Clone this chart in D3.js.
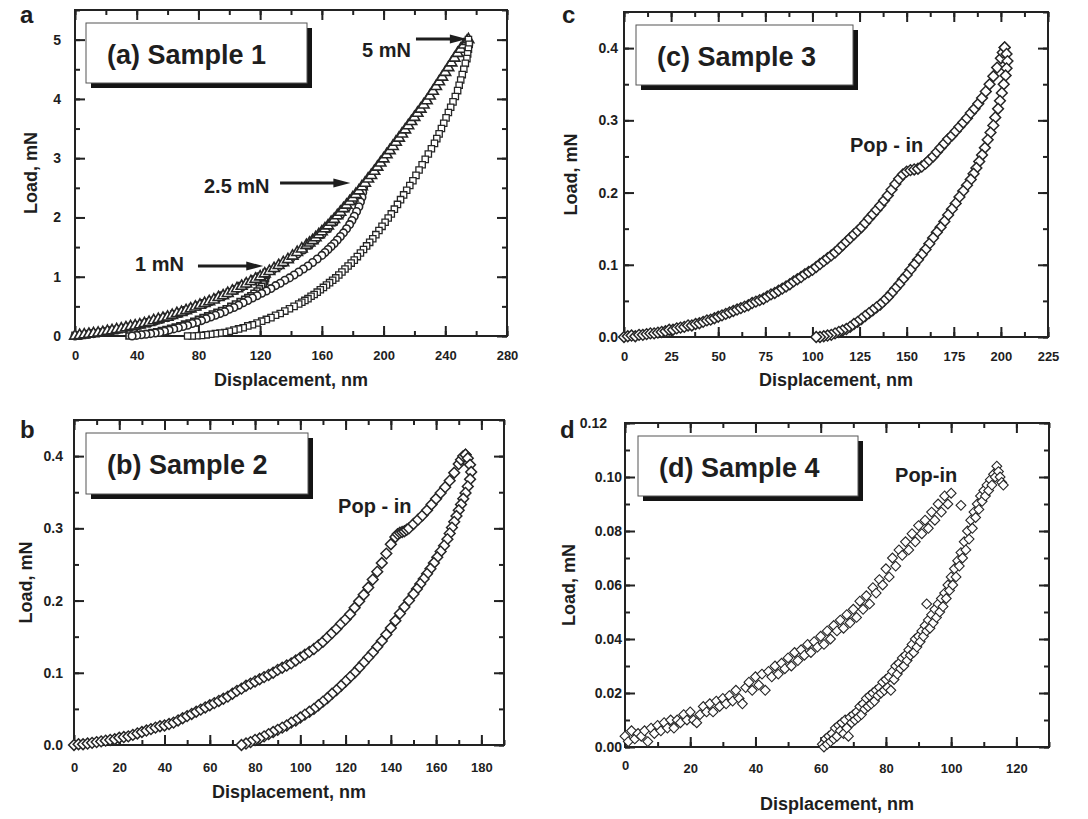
<!DOCTYPE html>
<html>
<head>
<meta charset="utf-8">
<script src="https://cdn.jsdelivr.net/npm/d3@7"></script>
<style>
	body { margin: 0; background: #fff; }
	text { font-family: "Liberation Sans", Arial, Helvetica, sans-serif; font-weight: bold; fill: #1e1e1e; }
</style>
</head>
<body>
<svg id="chart" width="1088" height="819"></svg>
<script>
// ---- data: [displacement nm, load mN] ----

// (a) Sample 1, three indents (1, 2.5 and 5 mN)
var aLoad1 = [[0,0.01],[4,0.02],[8,0.03],[12,0.05],[16,0.06],[20,0.08],[24,0.10],[28,0.12],[32,0.14],[36,0.16],[40,0.18],[44,0.21],[48,0.24],[52,0.27],[56,0.30],[60,0.33],[64,0.37],[68,0.40],[72,0.44],[76,0.48],[80,0.52],[84,0.56],[88,0.60],[92,0.65],[96,0.69],[100,0.74],[104,0.79],[108,0.85],[112,0.90],[116,0.96],[120,1.01],[124,1.07]];
var aUnload1 = [[124,1.07],[124,1.02],[123.5,0.97],[123,0.92],[122,0.88],[121,0.84],[119.5,0.80],[118,0.76],[116,0.72],[114,0.68],[112,0.65],[110,0.62],[107,0.58],[104,0.54],[101,0.50],[98,0.46],[95,0.43],[92,0.40],[89,0.37],[86,0.34],[83,0.31],[80,0.28],[77,0.25],[74,0.22],[71,0.20],[68,0.17],[65,0.15],[62,0.13],[59,0.11],[56,0.09],[53,0.07],[50,0.06],[47,0.04],[44,0.03],[41,0.02],[38,0.01],[35,0.00]];
var aLoad25 = [[0,0.00],[4,0.01],[8,0.03],[12,0.04],[16,0.06],[20,0.07],[24,0.09],[28,0.11],[32,0.13],[36,0.15],[40,0.17],[44,0.20],[48,0.22],[52,0.25],[56,0.28],[60,0.31],[64,0.35],[68,0.38],[72,0.42],[76,0.46],[80,0.50],[84,0.54],[88,0.58],[92,0.63],[96,0.67],[100,0.72],[104,0.77],[108,0.82],[112,0.88],[116,0.93],[120,0.99],[124,1.05],[128,1.11],[132,1.17],[136,1.24],[140,1.31],[144,1.38],[148,1.45],[152,1.53],[156,1.62],[160,1.71],[164,1.81],[168,1.92],[172,2.04],[176,2.16],[180,2.28],[184,2.40],[187,2.50]];
var aUnload25 = [[187,2.50],[186.5,2.42],[186,2.34],[185,2.26],[184,2.18],[182.5,2.10],[181,2.02],[179.5,1.95],[178,1.88],[176,1.81],[174,1.74],[172,1.68],[170,1.62],[168,1.56],[166,1.51],[164,1.46],[162,1.41],[160,1.36],[157,1.30],[154,1.24],[151,1.18],[148,1.13],[145,1.08],[142,1.03],[139,0.98],[136,0.94],[133,0.89],[130,0.85],[127,0.80],[124,0.76],[121,0.72],[118,0.68],[115,0.64],[112,0.60],[109,0.56],[106,0.52],[103,0.48],[100,0.45],[97,0.41],[94,0.38],[91,0.35],[88,0.32],[85,0.29],[82,0.26],[79,0.23],[76,0.21],[73,0.18],[70,0.16],[67,0.14],[64,0.12],[61,0.10],[58,0.08],[55,0.06],[52,0.05],[49,0.04],[46,0.03],[43,0.02],[40,0.01],[37,0.00]];
var aLoad5 = [[0,0.00],[3,0.01],[6,0.02],[9,0.03],[12,0.04],[15,0.05],[18,0.06],[21,0.08],[24,0.09],[27,0.11],[30,0.12],[33,0.14],[36,0.16],[39,0.17],[42,0.19],[45,0.21],[48,0.23],[51,0.26],[54,0.28],[57,0.30],[60,0.32],[63,0.35],[66,0.38],[69,0.40],[72,0.43],[75,0.46],[78,0.49],[81,0.52],[84,0.55],[87,0.58],[90,0.61],[93,0.65],[96,0.68],[99,0.72],[102,0.76],[105,0.80],[108,0.84],[111,0.88],[114,0.92],[117,0.96],[120,1.00],[123,1.05],[126,1.09],[129,1.14],[132,1.19],[135,1.24],[138,1.29],[141,1.35],[144,1.41],[147,1.47],[150,1.53],[152,1.57],[154,1.61],[156,1.66],[158,1.71],[160,1.76],[162,1.81],[164,1.86],[166,1.92],[168,1.97],[170,2.03],[172,2.09],[174,2.15],[176,2.21],[178,2.27],[180,2.33],[182,2.39],[184,2.45],[186,2.52],[188,2.58],[190,2.65],[192,2.71],[194,2.78],[196,2.85],[198,2.92],[200,2.99],[202,3.06],[204,3.13],[206,3.20],[208,3.27],[210,3.34],[212,3.41],[214,3.48],[216,3.55],[218,3.62],[220,3.69],[222,3.76],[224,3.83],[226,3.90],[228,3.97],[230,4.05],[232,4.13],[234,4.21],[236,4.29],[238,4.37],[240,4.45],[242,4.53],[244,4.61],[246,4.69],[248,4.77],[250,4.84],[252,4.91],[254,4.97],[255,5.00]];
var aUnload5 = [[255,5.00],[255.5,4.92],[255,4.84],[254.5,4.76],[254,4.68],[253,4.60],[252,4.50],[251,4.41],[250,4.32],[249,4.23],[248,4.14],[246.5,4.04],[245,3.95],[243.5,3.86],[242,3.77],[240.5,3.68],[239,3.59],[237.5,3.50],[236,3.41],[234.5,3.33],[233,3.25],[231,3.16],[229,3.07],[227,2.98],[225,2.89],[223,2.80],[221,2.71],[219,2.62],[217,2.54],[215,2.46],[213,2.38],[211,2.30],[209,2.22],[207,2.14],[205,2.06],[203,1.99],[201,1.92],[199,1.85],[197,1.78],[195,1.71],[193,1.64],[191,1.58],[189,1.52],[187,1.46],[185,1.40],[183,1.34],[181,1.28],[179,1.23],[177,1.18],[175,1.13],[173,1.08],[171,1.03],[169,0.98],[167,0.94],[165,0.90],[163,0.86],[161,0.82],[159,0.78],[157,0.74],[155,0.70],[153,0.67],[151,0.63],[149,0.60],[147,0.57],[145,0.54],[142,0.50],[139,0.46],[136,0.42],[133,0.38],[130,0.35],[127,0.31],[124,0.28],[121,0.25],[118,0.22],[115,0.19],[112,0.17],[109,0.14],[106,0.12],[103,0.10],[100,0.08],[97,0.06],[94,0.05],[91,0.04],[88,0.03],[85,0.02],[82,0.01],[79,0.005],[76,0.00],[73,0.00]];

// (b) Sample 2
var bLoad = [[0,0.000],[2,0.001],[4,0.001],[6,0.002],[8,0.003],[10,0.004],[12,0.005],[14,0.006],[16,0.007],[18,0.008],[20,0.010],[22,0.011],[24,0.012],[26,0.014],[28,0.016],[30,0.018],[32,0.020],[34,0.022],[36,0.024],[38,0.026],[40,0.027],[42,0.029],[44,0.031],[46,0.034],[48,0.037],[50,0.040],[52,0.043],[54,0.046],[56,0.049],[58,0.052],[60,0.055],[62,0.058],[64,0.061],[66,0.064],[68,0.067],[70,0.071],[72,0.075],[74,0.078],[76,0.082],[78,0.085],[80,0.088],[82,0.091],[84,0.094],[86,0.097],[88,0.100],[90,0.104],[92,0.107],[94,0.110],[96,0.113],[98,0.117],[100,0.121],[102,0.125],[104,0.129],[106,0.133],[108,0.138],[110,0.143],[112,0.149],[114,0.155],[116,0.161],[118,0.168],[120,0.174],[122,0.181],[124,0.190],[126,0.199],[128,0.208],[130,0.218],[132,0.229],[134,0.240],[136,0.252],[138,0.265],[140,0.278],[142,0.288],[143,0.292],[144,0.294],[145,0.295],[146,0.296],[147,0.298],[148,0.300],[150,0.306],[152,0.312],[154,0.318],[156,0.325],[158,0.333],[160,0.341],[162,0.349],[164,0.357],[166,0.366],[168,0.377],[170,0.389],[171,0.395],[172,0.400],[173,0.402]];
var bUnload = [[173,0.402],[174,0.397],[175,0.388],[175.5,0.378],[175,0.368],[174,0.358],[173,0.349],[172,0.341],[171,0.333],[170,0.325],[169,0.317],[168,0.309],[167,0.301],[166,0.293],[165,0.285],[163.5,0.276],[162,0.268],[160.5,0.260],[159,0.252],[157.5,0.244],[156,0.237],[154.5,0.230],[153,0.223],[151.5,0.216],[150,0.209],[148,0.200],[146,0.191],[144,0.182],[142,0.172],[140,0.162],[138,0.153],[136,0.144],[134,0.136],[132,0.128],[130,0.121],[128,0.114],[126,0.107],[124,0.100],[122,0.094],[120,0.088],[118,0.082],[116,0.076],[114,0.071],[112,0.065],[110,0.060],[108,0.055],[106,0.050],[104,0.046],[102,0.042],[100,0.038],[98,0.034],[96,0.031],[94,0.027],[92,0.024],[90,0.021],[88,0.018],[86,0.015],[84,0.012],[82,0.009],[80,0.007],[78,0.004],[76,0.002],[74,0.000]];

// (c) Sample 3
var cLoad = [[0,0.000],[2,0.001],[4,0.002],[6,0.001],[8,0.003],[10,0.003],[12,0.004],[14,0.005],[16,0.005],[18,0.006],[20,0.007],[22,0.008],[24,0.010],[26,0.010],[28,0.012],[30,0.013],[32,0.014],[34,0.016],[36,0.016],[38,0.018],[40,0.019],[42,0.021],[44,0.023],[46,0.024],[48,0.026],[50,0.028],[52,0.030],[54,0.032],[56,0.034],[58,0.036],[60,0.038],[62,0.040],[64,0.042],[66,0.044],[68,0.047],[70,0.049],[72,0.051],[74,0.053],[76,0.056],[78,0.059],[80,0.061],[82,0.064],[84,0.067],[86,0.070],[88,0.073],[90,0.077],[92,0.080],[94,0.083],[96,0.087],[98,0.090],[100,0.093],[102,0.097],[104,0.101],[106,0.105],[108,0.109],[110,0.113],[112,0.117],[114,0.122],[116,0.127],[118,0.132],[120,0.137],[122,0.142],[124,0.147],[126,0.152],[128,0.158],[130,0.164],[132,0.170],[134,0.176],[136,0.182],[138,0.189],[140,0.196],[142,0.204],[144,0.212],[146,0.219],[148,0.225],[150,0.229],[152,0.231],[154,0.232],[156,0.233],[158,0.236],[160,0.240],[162,0.245],[164,0.250],[166,0.256],[168,0.262],[170,0.268],[172,0.274],[174,0.279],[176,0.285],[178,0.291],[180,0.297],[182,0.303],[184,0.310],[186,0.316],[188,0.323],[190,0.331],[192,0.340],[194,0.350],[196,0.361],[198,0.373],[200,0.386],[201,0.394],[202,0.401]];
var cUnload = [[202,0.401],[203,0.392],[203.5,0.382],[203,0.372],[202.5,0.362],[201.5,0.350],[200.5,0.338],[199.5,0.327],[198.5,0.316],[197,0.304],[196,0.293],[194.5,0.283],[193,0.273],[191.5,0.262],[190,0.252],[188.5,0.243],[187,0.234],[185.5,0.226],[184,0.218],[182,0.210],[180,0.202],[178,0.194],[176,0.185],[174,0.177],[172,0.169],[170,0.160],[168,0.152],[166,0.145],[164,0.137],[162,0.129],[160,0.121],[158,0.114],[156,0.107],[154,0.100],[152,0.093],[150,0.086],[148,0.080],[146,0.073],[144,0.067],[142,0.061],[140,0.055],[138,0.050],[136,0.045],[134,0.041],[132,0.037],[130,0.033],[128,0.029],[126,0.025],[124,0.021],[122,0.018],[120,0.014],[118,0.011],[116,0.009],[114,0.007],[112,0.005],[110,0.003],[108,0.002],[106,0.001],[104,0.000],[102,0.000]];

// (d) Sample 4
var dLoad = [[0,0.004],[1,0.002],[2,0.006],[3,0.003],[4,0.005],[5,0.004],[6,0.006],[7,0.002],[8,0.007],[9,0.005],[10,0.008],[11,0.006],[12,0.009],[13,0.007],[14,0.010],[15,0.007],[16,0.010],[17,0.009],[18,0.012],[19,0.010],[20,0.013],[21,0.010],[22,0.009],[23,0.012],[24,0.015],[25,0.013],[26,0.016],[27,0.013],[28,0.017],[29,0.015],[30,0.018],[31,0.016],[32,0.019],[33,0.017],[34,0.021],[35,0.018],[36,0.016],[37,0.022],[38,0.024],[39,0.021],[40,0.026],[41,0.023],[42,0.027],[43,0.021],[44,0.028],[45,0.026],[46,0.030],[47,0.027],[48,0.031],[49,0.029],[50,0.033],[51,0.030],[52,0.035],[53,0.032],[54,0.036],[55,0.034],[56,0.038],[57,0.035],[58,0.039],[59,0.037],[60,0.041],[61,0.038],[62,0.043],[63,0.040],[64,0.045],[65,0.043],[66,0.047],[67,0.044],[68,0.049],[69,0.046],[70,0.051],[71,0.048],[72,0.054],[73,0.051],[74,0.056],[75,0.053],[76,0.059],[77,0.057],[78,0.062],[79,0.060],[80,0.066],[81,0.063],[82,0.070],[83,0.067],[84,0.073],[85,0.071],[86,0.076],[87,0.073],[88,0.079],[89,0.076],[90,0.082],[91,0.079],[92,0.084],[93,0.081],[94,0.087],[95,0.084],[96,0.090],[97,0.087],[98,0.093],[99,0.090],[100,0.094],[103,0.0895]];
var dUnload = [[60.5,0.001],[61,0.000],[61.5,0.003],[62,0.001],[62.5,0.004],[63,0.002],[63.5,0.005],[64,0.003],[64.5,0.007],[65,0.004],[65.5,0.008],[66,0.006],[66.5,0.009],[67,0.005],[67.5,0.010],[68,0.007],[68.5,0.004],[69,0.011],[69.5,0.009],[70,0.012],[70.5,0.010],[71,0.013],[71.5,0.011],[72,0.015],[72.5,0.012],[73,0.016],[73.5,0.014],[74,0.018],[74.5,0.015],[75,0.019],[75.5,0.016],[76,0.020],[76.5,0.017],[77,0.021],[77.5,0.019],[78,0.022],[78.5,0.020],[79,0.024],[79.5,0.021],[80,0.025],[80.5,0.022],[81,0.026],[81.5,0.021],[82,0.028],[82.5,0.025],[83,0.030],[83.5,0.027],[84,0.031],[84.5,0.029],[85,0.033],[85.5,0.030],[86,0.034],[86.5,0.032],[87,0.036],[87.5,0.034],[88,0.038],[88.5,0.035],[89,0.040],[89.5,0.037],[90,0.041],[90.5,0.039],[91,0.043],[91.5,0.041],[92,0.045],[92.5,0.053],[92.5,0.043],[93,0.047],[93.5,0.044],[94,0.049],[94.5,0.046],[95,0.051],[95.5,0.048],[96,0.053],[96.5,0.050],[97,0.055],[97.5,0.052],[98,0.057],[98.5,0.055],[99,0.060],[99.5,0.058],[100,0.063],[100.5,0.060],[101,0.066],[101.5,0.063],[102,0.069],[102.5,0.067],[103,0.072],[103.5,0.070],[104,0.076],[104.5,0.073],[105,0.080],[105.5,0.077],[106,0.084],[106.5,0.081],[107,0.087],[107.5,0.085],[108,0.090],[108.5,0.088],[109,0.093],[109.5,0.091],[110,0.095],[110.5,0.093],[111,0.097],[111.5,0.095],[112,0.099],[112.5,0.097],[113,0.101],[113.5,0.100],[114,0.104],[114.5,0.102],[115,0.100],[115.5,0.098],[116,0.097]];

// ---- tick values ----
var aXTicks = [0, 40, 80, 120, 160, 200, 240, 280];
var aYTicks = [0, 1, 2, 3, 4, 5];
var bXTicks = [0, 20, 40, 60, 80, 100, 120, 140, 160, 180];
var bYTicks = [0, 0.1, 0.2, 0.3, 0.4];
var cXTicks = [0, 25, 50, 75, 100, 125, 150, 175, 200, 225];
var cYTicks = [0, 0.1, 0.2, 0.3, 0.4];
var dXTicks = [0, 20, 40, 60, 80, 100, 120];
var dYTicks = [0, 0.02, 0.04, 0.06, 0.08, 0.10, 0.12];

var diamond = { type: d3.symbolSquare, size: 58, rotate: 45, sw: 1.5 };
var diamondD = { type: d3.symbolSquare, size: 48, rotate: 45, sw: 1.1 };

var panels = [
	{ letter: 'a', letterAt: [20, 23], box: { x: 75, y: 10, w: 432, h: 326 },
		xDomain: [0, 280], yDomain: [0, 5.5], xTicks: aXTicks, xMinor: 20, yTicks: aYTicks, yMinor: 0.5, yFmt: d3.format('d'),
		xPad: 15, yPad: 14, xTitleDy: 50, yTitleDx: -38,
		legend: '(a) Sample 1', legendBox: [11, 13, 221, 60],
		series: [
			{ data: aLoad1, type: d3.symbolSquare, size: 36, sw: 1.6 },
			{ data: aUnload1, type: d3.symbolSquare, size: 36, sw: 1.6 },
			{ data: aLoad25, type: d3.symbolCircle, size: 44, sw: 1.6 },
			{ data: aUnload25, type: d3.symbolCircle, size: 44, sw: 1.6 },
			{ data: aLoad5, type: d3.symbolTriangle, size: 50, sw: 1.6 },
			{ data: aUnload5, type: d3.symbolSquare, size: 40, sw: 1.3 }
		],
		notes: [
			{ text: '5 mN', at: [186, 4.71], arrow: [221, 254, 5.01] },
			{ text: '2.5 mN', at: [83.6, 2.41], arrow: [132.9, 178.5, 2.58] },
			{ text: '1 mN', at: [38.9, 1.10], arrow: [79.7, 122, 1.18] }
		] },
	{ letter: 'c', letterAt: [562, 23], box: { x: 624, y: 12, w: 424, h: 325 },
		xDomain: [0, 225], yDomain: [0, 0.45], xTicks: cXTicks, xMinor: 12.5, yTicks: cYTicks, yMinor: 0.05, yFmt: d3.format('.1f'),
		xPad: 15, yPad: 6, xTitleDy: 49, yTitleDx: -47,
		legend: '(c) Sample 3', legendBox: [12, 13, 217, 60],
		series: [ Object.assign({ data: cLoad }, diamond), Object.assign({ data: cUnload }, diamond) ],
		notes: [ { text: 'Pop - in', at: [119.9, 0.256] } ] },
	{ letter: 'b', letterAt: [20, 438], box: { x: 74, y: 420, w: 430, h: 325 },
		xDomain: [0, 190], yDomain: [0, 0.45], xTicks: bXTicks, xMinor: 10, yTicks: bYTicks, yMinor: 0.05, yFmt: d3.format('.1f'),
		xPad: 18, yPad: 11, xTitleDy: 53, yTitleDx: -42,
		legend: '(b) Sample 2', legendBox: [12, 13, 222, 61],
		series: [ Object.assign({ data: bLoad }, diamond), Object.assign({ data: bUnload }, diamond) ],
		notes: [ { text: 'Pop - in', at: [116.7, 0.321] } ] },
	{ letter: 'd', letterAt: [560, 438], box: { x: 625, y: 423, w: 424, h: 324 },
		xDomain: [0, 130], yDomain: [0, 0.12], xTicks: dXTicks, xMinor: 10, yTicks: dYTicks, yMinor: 0.01, yFmt: d3.format('.2f'),
		xPad: 17, yPad: 3, xTitleDy: 63, yTitleDx: -50, yTopX: -18, xZeroDy: -3,
		legend: '(d) Sample 4', legendBox: [13, 13, 220, 60],
		series: [ Object.assign({ data: dLoad }, diamondD), Object.assign({ data: dUnload }, diamondD) ],
		notes: [ { text: 'Pop-in', at: [82.8, 0.0981] } ] }
];

var svg = d3.select('#chart');
panels.forEach(drawPanel);

function drawPanel(p) {
	var w = p.box.w, h = p.box.h;
	var x = d3.scaleLinear().domain(p.xDomain).range([0, w]);
	var y = d3.scaleLinear().domain(p.yDomain).range([h, 0]);

	var g = svg.append('g').attr('transform', 'translate(' + p.box.x + ',' + p.box.y + ')');

	// panel letter
	svg.append('text')
		.attr('x', p.letterAt[0]).attr('y', p.letterAt[1])
		.style('font-size', '24px')
		.text(p.letter);

	var xMinor = d3.range(p.xDomain[0], p.xDomain[1] + 1e-9, p.xMinor);
	var yMinor = d3.range(p.yDomain[0], p.yDomain[1] + 1e-9, p.yMinor);

	// minor ticks, all four sides, pointing inwards
	g.append('g').attr('class', 'axis').attr('transform', 'translate(0,' + h + ')')
		.call(d3.axisBottom(x).tickValues(xMinor).tickSize(-5).tickFormat(''));
	g.append('g').attr('class', 'axis')
		.call(d3.axisTop(x).tickValues(xMinor).tickSize(-5).tickFormat(''));
	g.append('g').attr('class', 'axis')
		.call(d3.axisLeft(y).tickValues(yMinor).tickSize(-5).tickFormat(''));
	g.append('g').attr('class', 'axis').attr('transform', 'translate(' + w + ',0)')
		.call(d3.axisRight(y).tickValues(yMinor).tickSize(-5).tickFormat(''));

	// major ticks with labels
	var xAxis = g.append('g').attr('class', 'axis x-major').attr('transform', 'translate(0,' + h + ')')
		.call(d3.axisBottom(x).tickValues(p.xTicks).tickSize(-10).tickPadding(p.xPad).tickFormat(d3.format('d')));
	g.append('g').attr('class', 'axis')
		.call(d3.axisTop(x).tickValues(p.xTicks).tickSize(-10).tickFormat(''));
	var yAxis = g.append('g').attr('class', 'axis y-major')
		.call(d3.axisLeft(y).tickValues(p.yTicks).tickSize(-10).tickPadding(p.yPad).tickFormat(p.yFmt));
	g.append('g').attr('class', 'axis').attr('transform', 'translate(' + w + ',0)')
		.call(d3.axisRight(y).tickValues(p.yTicks).tickSize(-10).tickFormat(''));

	g.selectAll('.axis .domain').remove();
	g.selectAll('.axis line').attr('stroke', '#222').attr('stroke-width', 2);
	g.selectAll('.x-major text').style('font-size', '13px').attr('fill', '#1e1e1e');
	g.selectAll('.y-major text').style('font-size', '14px').attr('fill', '#1e1e1e');
	if (p.yTopX) {
		yAxis.selectAll('text').filter(function(d) { return Math.abs(d - p.yDomain[1]) < 1e-9; })
			.attr('x', p.yTopX);
	}
	if (p.xZeroDy) {
		xAxis.selectAll('text').filter(function(d) { return d === 0; })
			.attr('y', p.xPad + p.xZeroDy);
	}

	// frame
	g.append('rect')
		.attr('width', w).attr('height', h)
		.attr('fill', 'none').attr('stroke', '#222').attr('stroke-width', 2);

	// data
	p.series.forEach(function(s) {
		var sym = d3.symbol().type(s.type).size(s.size);
		g.append('g').selectAll('path')
			.data(s.data)
			.enter()
			.append('path')
			.attr('transform', function(d) {
				return 'translate(' + x(d[0]) + ',' + y(d[1]) + ')' + (s.rotate ? ' rotate(' + s.rotate + ')' : '');
			})
			.attr('d', sym)
			.attr('fill', '#fff')
			.attr('stroke', '#262626')
			.attr('stroke-width', s.sw);
	});

	// axis titles
	g.append('text')
		.attr('x', w / 2).attr('y', h + p.xTitleDy)
		.attr('text-anchor', 'middle')
		.style('font-size', '18px')
		.text('Displacement, nm');
	g.append('text')
		.attr('transform', 'translate(' + p.yTitleDx + ',' + (h / 2) + ') rotate(-90)')
		.attr('text-anchor', 'middle')
		.style('font-size', '18px')
		.text('Load, mN');

	// legend box with drop shadow
	var lb = p.legendBox;
	g.append('rect')
		.attr('x', lb[0] + 5).attr('y', lb[1] + 5).attr('width', lb[2]).attr('height', lb[3])
		.attr('fill', '#141414');
	g.append('rect')
		.attr('x', lb[0]).attr('y', lb[1]).attr('width', lb[2]).attr('height', lb[3])
		.attr('fill', '#fff').attr('stroke', '#555').attr('stroke-width', 1);
	g.append('text')
		.attr('x', lb[0] + 21).attr('y', lb[1] + 41)
		.style('font-size', '27px')
		.text(p.legend);

	// annotations
	p.notes.forEach(function(n) {
		g.append('text')
			.attr('x', x(n.at[0])).attr('y', y(n.at[1]))
			.style('font-size', '20px')
			.text(n.text);
		if (n.arrow) {
			var x0 = x(n.arrow[0]), x1 = x(n.arrow[1]), ya = y(n.arrow[2]);
			g.append('line')
				.attr('x1', x0).attr('x2', x1 - 12).attr('y1', ya).attr('y2', ya)
				.attr('stroke', '#1e1e1e').attr('stroke-width', 3);
			g.append('path')
				.attr('d', 'M' + x1 + ',' + ya + ' L' + (x1 - 17) + ',' + (ya - 4.5) + ' L' + (x1 - 17) + ',' + (ya + 4.5) + ' Z')
				.attr('fill', '#1e1e1e');
		}
	});
}
</script>
</body>
</html>
